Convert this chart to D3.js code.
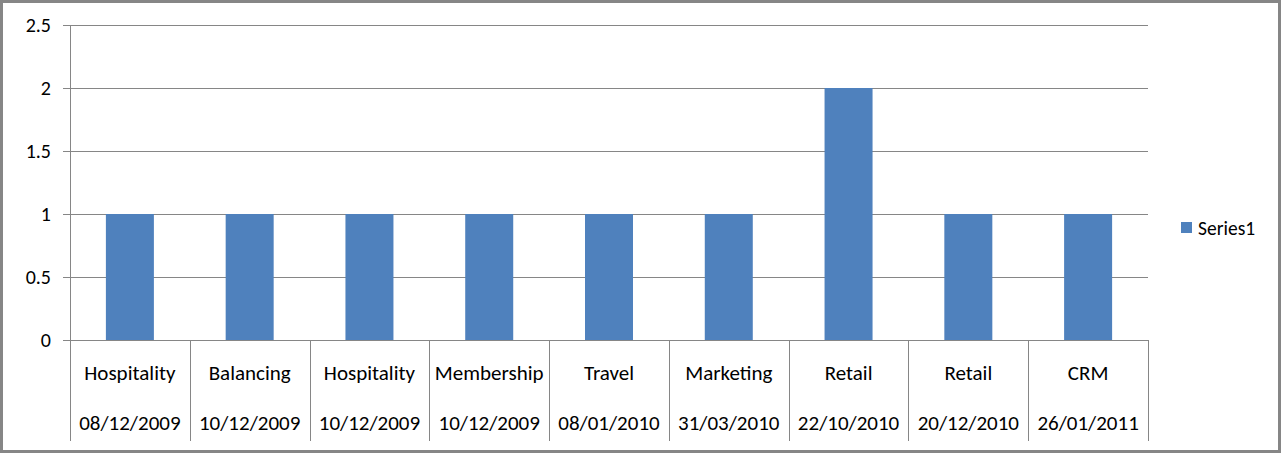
<!DOCTYPE html>
<html><head><meta charset="utf-8">
<script src="https://cdn.jsdelivr.net/npm/d3@7"></script>
<style>body{margin:0;background:#fff}svg{display:block}text{font-family:Carlito,Lato,sans-serif;fill:#000}</style>
</head><body><svg id="c" width="1282" height="454"></svg>
<script>
const categories = ["Hospitality","Balancing","Hospitality","Membership","Travel","Marketing","Retail","Retail","CRM"];
const dates = ["08/12/2009","10/12/2009","10/12/2009","10/12/2009","08/01/2010","31/03/2010","22/10/2010","20/12/2010","26/01/2011"];
const series1 = [1,1,1,1,1,1,2,1,1];
const yTicks = [0,0.5,1,1.5,2,2.5];
const seriesName = "Series1";

const svg = d3.select("#c");
const W=1282,H=454;
svg.append("rect").attr("x",1.5).attr("y",1.5).attr("width",W-4).attr("height",H-4)
  .attr("fill","#fff").attr("stroke","#868686").attr("stroke-width",3);
const L=70,R=1148,T=25,B=340;
const x = d3.scaleBand().domain(d3.range(categories.length)).range([L,R]).paddingInner(0).paddingOuter(0);
const y = d3.scaleLinear().domain([0,2.5]).range([B,T]);
const g = svg.append("g");
g.selectAll(".grid").data(yTicks).join("line")
  .attr("x1",L-7).attr("x2",R).attr("y1",d=>Math.round(y(d))+0.5).attr("y2",d=>Math.round(y(d))+0.5)
  .attr("stroke","#868686").attr("stroke-width",1);
g.selectAll(".yl").data(yTicks).join("text")
  .attr("x",51).attr("y",d=>y(d)).attr("dy","0.35em").attr("text-anchor","end")
  .style("font-size","20px").text(d=>d);
g.append("line").attr("x1",L+0.5).attr("x2",L+0.5).attr("y1",T).attr("y2",B).attr("stroke","#868686");
const bw = 48;
g.selectAll(".bar").data(series1).join("rect")
  .attr("x",(d,i)=>x(i)+x.bandwidth()/2-bw/2).attr("width",bw)
  .attr("y",d=>y(d)).attr("height",d=>y(0)-y(d)).attr("fill","#4F81BD");
const seps = d3.range(categories.length+1);
g.selectAll(".sep").data(seps).join("line")
  .attr("x1",i=>Math.round(i<categories.length?x(i):R)+0.5).attr("x2",i=>Math.round(i<categories.length?x(i):R)+0.5)
  .attr("y1",B).attr("y2",441).attr("stroke","#868686");
g.selectAll(".cat").data(categories).join("text")
  .attr("x",(d,i)=>x(i)+x.bandwidth()/2).attr("y",373).attr("dy","0.35em").attr("text-anchor","middle")
  .style("font-size","21px").text(d=>d);
g.selectAll(".dt").data(dates).join("text")
  .attr("x",(d,i)=>x(i)+x.bandwidth()/2).attr("y",423).attr("dy","0.35em").attr("text-anchor","middle")
  .style("font-size","21px").text(d=>d);
svg.append("rect").attr("x",1181).attr("y",222).attr("width",11).attr("height",11).attr("fill","#4F81BD");
svg.append("text").attr("x",1198).attr("y",228).attr("dy","0.35em").style("font-size","19.5px").text(seriesName);
</script></body></html>
